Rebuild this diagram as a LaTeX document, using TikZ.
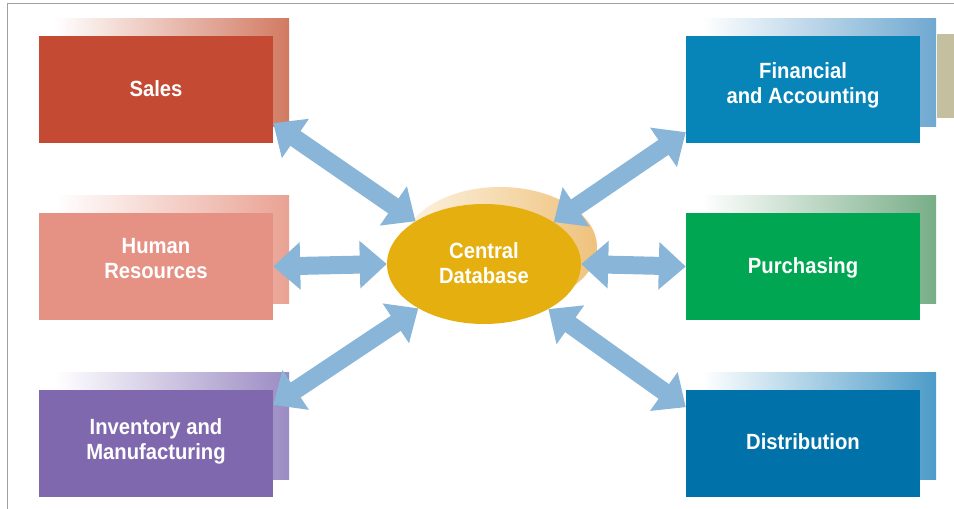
\documentclass[tikz,border=0pt]{standalone}
\usepackage{fontspec}
\setmainfont{Liberation Sans}[FakeStretch=0.92]
\usepackage{tikz}
\usetikzlibrary{arrows.meta,shapes.geometric,calc,backgrounds}
\definecolor{framegray}{HTML}{A0A0A0}
\definecolor{salesred}{HTML}{C44A34}
\definecolor{salesshade}{HTML}{D27A62}
\definecolor{hrpink}{HTML}{E59285}
\definecolor{hrshade}{HTML}{E9A293}
\definecolor{invpurple}{HTML}{7F68AE}
\definecolor{invshade}{HTML}{9B8BC3}
\definecolor{finblue}{HTML}{0784B8}
\definecolor{finshade}{HTML}{6FA8D0}
\definecolor{fintan}{HTML}{C4C09F}
\definecolor{purgreen}{HTML}{00A651}
\definecolor{purshade}{HTML}{78AD87}
\definecolor{distblue}{HTML}{0072A9}
\definecolor{distshade}{HTML}{4C9BC8}
\definecolor{dbgold}{HTML}{E5AF0F}
\definecolor{dbshade}{HTML}{EFC27C}
\definecolor{dbpale}{HTML}{FDF3E3}
\definecolor{linkblue}{HTML}{88B5D8}
% label: first baseline sits #1 above the node centre
\newcommand{\deptlabel}[2][0pt]{\raisebox{#1}[0pt][0pt]{\begin{tabular}[t]{@{}c@{}}#2\end{tabular}}}
\begin{document}
\begin{tikzpicture}[x=1pt,y=-1pt,
dept/.style={rectangle,minimum width=234pt,minimum height=107pt,inner sep=0pt,
  text=white,font=\fontsize{22}{25}\selectfont\bfseries},
link/.style={draw=linkblue,line width=18pt,
  {Triangle[width=46pt,length=27pt]}-{Triangle[width=46pt,length=27pt]}}]
\useasboundingbox (0,0) rectangle (954,509);
\draw[framegray,line width=1.5pt](7.5,509)--(7.5,3.5)--(954,3.5);
% departments
\node[dept,fill=salesred](sales) at (156,89.5){\deptlabel[-6.5pt]{Sales}};
\node[dept,fill=hrpink](hr) at (156,266.5){\deptlabel[13pt]{Human\\Resources}};
\node[dept,fill=invpurple](inv) at (156,443){\deptlabel[8.5pt]{Inventory and\\Manufacturing}};
\node[dept,fill=finblue](fin) at (803,89.5){\deptlabel[11pt]{Financial\\and Accounting}};
\node[dept,fill=purgreen](pur) at (803,266.5){\deptlabel[-6.5pt]{Purchasing}};
\node[dept,fill=distblue](dist) at (803,443){\deptlabel[-6.3pt]{Distribution}};
\node[ellipse,fill=dbgold,minimum width=194pt,minimum height=120pt,inner sep=0pt,
  text=white,font=\fontsize{22}{25}\selectfont\bfseries](db) at (484,264){\deptlabel[5.7pt]{Central\\Database}};
% shadows
\begin{scope}[on background layer]
\fill[fintan](937,34) rectangle (954,118);
\shade[left color=white,right color=salesshade]($(sales.north west)+(16,-17)$)rectangle($(sales.south east)+(16,-17)$);
\shade[left color=white,right color=hrshade]($(hr.north west)+(16,-17)$)rectangle($(hr.south east)+(16,-17)$);
\shade[left color=white,right color=invshade]($(inv.north west)+(16,-17)$)rectangle($(inv.south east)+(16,-17)$);
\shade[left color=white,right color=finshade]($(fin.north west)+(16,-17)$)rectangle($(fin.south east)+(16,-17)$);
\shade[left color=white,right color=purshade]($(pur.north west)+(16,-17)$)rectangle($(pur.south east)+(16,-17)$);
\shade[left color=white,right color=distshade]($(dist.north west)+(16,-17)$)rectangle($(dist.south east)+(16,-17)$);
\shade[left color=dbpale,right color=dbshade]($(db.center)+(16,-17)$) ellipse [x radius=97,y radius=60];
\end{scope}
% links
\draw[link](sales.-16)--(db.148);
\draw[link](hr.east)--(db.west);
\draw[link](inv.18)--(db.214);
\draw[link](fin.200)--(db.31);
\draw[link](db.east)--(pur.west);
\draw[link](dist.163)--(db.-35);
\end{tikzpicture}
\end{document}
